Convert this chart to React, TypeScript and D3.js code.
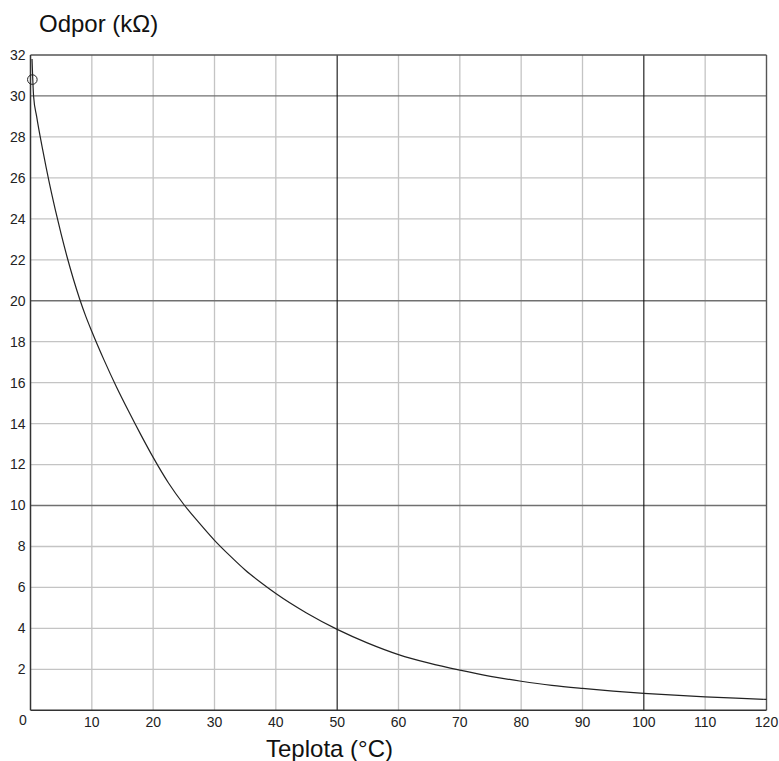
import React from "react";
import * as d3 from "d3";

const temps = [0.25, 0.5, 1, 2, 3, 4, 5, 6, 7, 8, 9, 10, 12, 14, 16, 18, 20, 22.5, 25, 27.5, 30, 32.5, 35, 37.5, 40, 45, 50, 55, 60, 65, 70, 75, 80, 85, 90, 95, 100, 105, 110, 115, 120];
const resist = [31.8, 30.0, 29.0, 27.35, 25.85, 24.5, 23.25, 22.1, 21.05, 20.1, 19.25, 18.5, 17.1, 15.8, 14.6, 13.45, 12.35, 11.1, 10.05, 9.15, 8.3, 7.55, 6.85, 6.25, 5.7, 4.75, 3.95, 3.28, 2.72, 2.3, 1.96, 1.66, 1.42, 1.22, 1.07, 0.94, 0.83, 0.74, 0.66, 0.59, 0.53];
const marker = { t: 0.25, r: 30.8 };

const xTicks = [10, 20, 30, 40, 50, 60, 70, 80, 90, 100, 110, 120];
const yTicks = [2, 4, 6, 8, 10, 12, 14, 16, 18, 20, 22, 24, 26, 28, 30, 32];
const xMajor = [50, 100];
const yMajor = [10, 20, 30];

const W = 779;
const H = 761;
const FONT = "'Liberation Sans', Arial, Helvetica, sans-serif";

export default function App() {
  const x = d3.scaleLinear().domain([0, 120]).range([30.5, 766.5]);
  const y = d3.scaleLinear().domain([0, 32]).range([710.3, 55]);
  const pts: [number, number][] = temps.map((t, i) => [t, resist[i]]);
  const line = d3
    .line<[number, number]>()
    .x((d) => x(d[0]))
    .y((d) => y(d[1]))
    .curve(d3.curveMonotoneX);

  const x0 = x(0), x1 = x(120), y0 = y(0), y1 = y(32);

  return (
    <svg
      width={W}
      height={H}
      style={{ position: "absolute", left: 0, top: 0, background: "#fff" }}
      fontFamily={FONT}
    >
      <rect x={0} y={0} width={W} height={H} fill="#fff" />
      {xTicks.filter((t) => !xMajor.includes(t) && t !== 120).map((t) => (
        <line key={"gx" + t} x1={x(t)} x2={x(t)} y1={y1} y2={y0} stroke="#c4c4c4" strokeWidth={1.3} />
      ))}
      {yTicks.filter((t) => !yMajor.includes(t) && t !== 32).map((t) => (
        <line key={"gy" + t} x1={x0} x2={x1} y1={y(t)} y2={y(t)} stroke="#c4c4c4" strokeWidth={1.3} />
      ))}
      {yMajor.map((t) => (
        <line key={"my" + t} x1={x0} x2={x1} y1={y(t)} y2={y(t)} stroke="#707070" strokeWidth={1.3} />
      ))}
      {xMajor.map((t) => (
        <line key={"mx" + t} x1={x(t)} x2={x(t)} y1={y1} y2={y0} stroke="#111" strokeWidth={1.1} />
      ))}
      <line x1={x0} x2={x1} y1={y1} y2={y1} stroke="#555" strokeWidth={1.4} />
      <line x1={x1} x2={x1} y1={y1} y2={y0} stroke="#555" strokeWidth={1.4} />
      <line x1={x0} x2={x0} y1={y1} y2={y0} stroke="#333" strokeWidth={1.5} />
      <line x1={x0} x2={x1} y1={y0} y2={y0} stroke="#333" strokeWidth={1.5} />

      <path d={line(pts) || ""} fill="none" stroke="#222" strokeWidth={1.2} />
      <circle cx={x(marker.t) + 0.3} cy={y(marker.r)} r={4.8} fill="none" stroke="#222" strokeWidth={1} />

      {yTicks.map((t) => (
        <text key={"ly" + t} x={25.5} y={y(t)} dy="0.35em" textAnchor="end" fontSize={14} fill="#222">
          {t}
        </text>
      ))}
      <text x={23} y={724.5} textAnchor="middle" fontSize={14} fill="#222">0</text>
      {xTicks.map((t) => (
        <text key={"lx" + t} x={x(t)} y={726.5} textAnchor="middle" fontSize={14} fill="#222">
          {t}
        </text>
      ))}

      <text x={39} y={32} fontSize={24} fill="#111">Odpor (kΩ)</text>
      <text x={329.5} y={757} textAnchor="middle" fontSize={24} fill="#111">Teplota (°C)</text>
    </svg>
  );
}
